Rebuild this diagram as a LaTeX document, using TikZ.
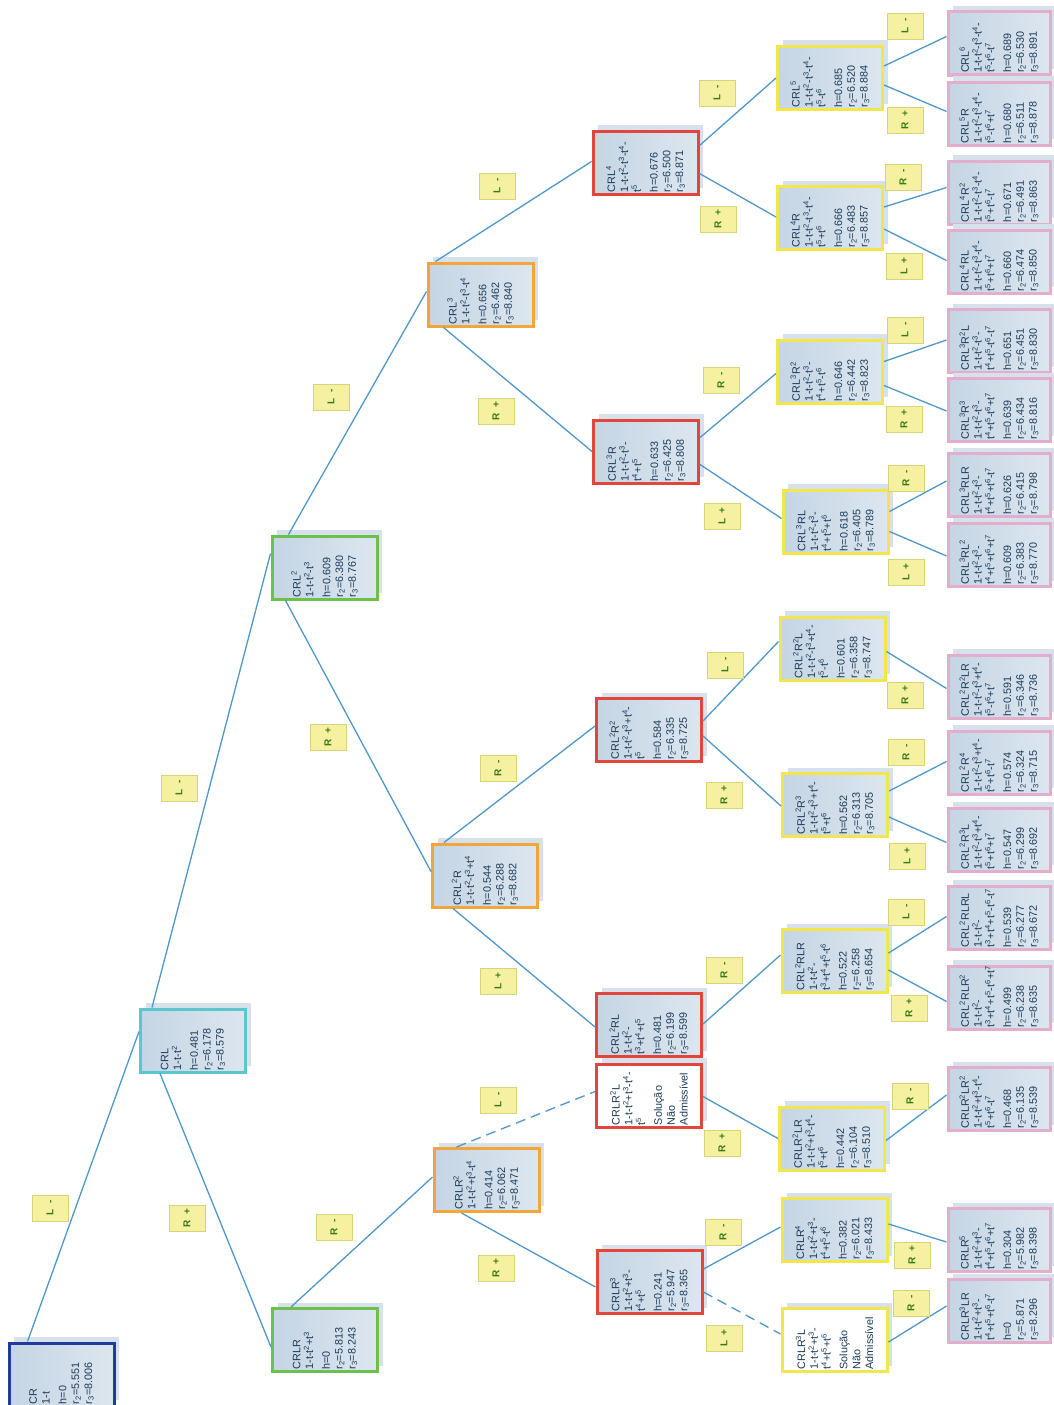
\documentclass[tikz,border=0pt]{standalone}
\usepackage{fontspec}
\setmainfont{Liberation Sans}
\usepackage{graphicx}
\usetikzlibrary{calc,shadows}

\definecolor{bordCR}{HTML}{1F3C9C}
\definecolor{bordCyan}{HTML}{5CC6CF}
\definecolor{bordGreen}{HTML}{6DC04B}
\definecolor{bordOrange}{HTML}{F2A63A}
\definecolor{bordRed}{HTML}{E2453B}
\definecolor{bordYellow}{HTML}{F2E64C}
\definecolor{bordPink}{HTML}{E3AECB}
\definecolor{fillL}{HTML}{C5D5E4}
\definecolor{fillR}{HTML}{DCE6EF}
\definecolor{shadowc}{HTML}{D6E1EC}
\definecolor{txtc}{HTML}{1B3A58}
\definecolor{linec}{HTML}{4F97C9}
\definecolor{labF}{HTML}{F5F1A0}
\definecolor{labB}{HTML}{D6D47A}
\definecolor{labT}{HTML}{3A7A1C}

% rotated, left-aligned text block of a tree node; lines never break at hyphens
\newcommand{\bt}[1]{\rotatebox{90}{\begin{minipage}{59pt}\raggedright
  \exhyphenpenalty=10000 \hyphenpenalty=10000 \hbadness=10000 \hfuzz=20pt #1\end{minipage}}}
\newcommand{\su}[1]{\textsuperscript{#1}}
\newcommand{\sbb}[1]{\textsubscript{#1}}
\newcommand{\lt}[1]{\rotatebox{90}{#1}}

\tikzset{
  treebox/.style={draw=#1, line width=3pt, minimum width=105pt, minimum height=63pt,
    inner sep=0pt, left color=fillL, right color=fillR, text=txtc,
    font=\fontsize{10.8}{12.8}\selectfont,
    drop shadow={shadow xshift=5pt, shadow yshift=6pt, fill=shadowc, opacity=1}},
  leafbox/.style={treebox=bordPink, minimum width=102pt},
  nobox/.style={treebox=#1, fill=white, left color=white, right color=white},
  signlab/.style={draw=labB, fill=labF, line width=0.8pt, minimum width=36pt,
    minimum height=26pt, inner sep=0pt, text=labT,
    font=\bfseries\fontsize{10}{11}\selectfont},
  conn/.style={draw=linec, line width=1.3pt},
  connd/.style={conn, dash pattern=on 10pt off 6pt},
}

\begin{document}
\begin{tikzpicture}[x=1pt,y=-1pt]
\useasboundingbox (0,0) rectangle (1053,1405);

% ---- level 0 .. 3
\node[treebox=bordCR] (cr) at (61.5,1374.5) {\bt{CR\\1-t\\[4pt]h=0\\r\sbb{2}=5.551\\r\sbb{3}=8.006}};
\node[treebox=bordCyan] (crl) at (193,1040.5) {\bt{CRL\\1-t-t\su{2}\\[4pt]h=0.481\\r\sbb{2}=6.178\\r\sbb{3}=8.579}};
\node[treebox=bordGreen] (crl2) at (324.5,567.5) {\bt{CRL\su{2}\\1-t-t\su{2}-t\su{3}\\[4pt]h=0.609\\r\sbb{2}=6.380\\r\sbb{3}=8.767}};
\node[treebox=bordGreen] (crlr) at (325,1340) {\bt{CRLR\\1-t-t\su{2}+t\su{3}\\[4pt]h=0\\r\sbb{2}=5.813\\r\sbb{3}=8.243}};
\node[treebox=bordOrange] (crl3) at (480.5,294.5) {\bt{CRL\su{3}\\1-t-t\su{2}-t\su{3}-t\su{4}\\[4pt]h=0.656\\r\sbb{2}=6.462\\r\sbb{3}=8.840}};
\node[treebox=bordOrange] (crl2r) at (485,875.5) {\bt{CRL\su{2}R\\1-t-t\su{2}-t\su{3}+t\su{4}\\[4pt]h=0.544\\r\sbb{2}=6.288\\r\sbb{3}=8.682}};
\node[treebox=bordOrange] (crlr2) at (486.5,1180) {\bt{CRLR\su{2}\\1-t-t\su{2}+t\su{3}-t\su{4}\\[4pt]h=0.414\\r\sbb{2}=6.062\\r\sbb{3}=8.471}};

% ---- level 4
\node[treebox=bordRed] (crl4) at (645.5,162.5) {\bt{CRL\su{4}\\1-t-t\su{2}-t\su{3}-t\su{4}-\\t\su{5}\\[4pt]h=0.676\\r\sbb{2}=6.500\\r\sbb{3}=8.871}};
\node[treebox=bordRed] (crl3r) at (646,451.5) {\bt{CRL\su{3}R\\1-t-t\su{2}-t\su{3}-\\t\su{4}+t\su{5}\\[4pt]h=0.633\\r\sbb{2}=6.425\\r\sbb{3}=8.808}};
\node[treebox=bordRed] (crl2r2) at (649,730) {\bt{CRL\su{2}R\su{2}\\1-t-t\su{2}-t\su{3}+t\su{4}-\\t\su{5}\\[4pt]h=0.584\\r\sbb{2}=6.335\\r\sbb{3}=8.725}};
\node[treebox=bordRed] (crl2rl) at (649,1025) {\bt{CRL\su{2}RL\\1-t-t\su{2}-\\t\su{3}+t\su{4}+t\su{5}\\[4pt]h=0.481\\r\sbb{2}=6.199\\r\sbb{3}=8.599}};
\node[nobox=bordRed] (crlr2l) at (649,1095.5) {\bt{CRLR\su{2}L\\1-t-t\su{2}+t\su{3}-t\su{4}-\\t\su{5}\\[4pt]Solução\\Não\\Admissível}};
\node[treebox=bordRed] (crlr3) at (649.5,1282) {\bt{CRLR\su{3}\\1-t-t\su{2}+t\su{3}-\\t\su{4}+t\su{5}\\[4pt]h=0.241\\r\sbb{2}=5.947\\r\sbb{3}=8.365}};

% ---- level 5
\node[treebox=bordYellow] (crl5) at (830,78) {\bt{CRL\su{5}\\1-t-t\su{2}-t\su{3}-t\su{4}-\\t\su{5}-t\su{6}\\[4pt]h=0.685\\r\sbb{2}=6.520\\r\sbb{3}=8.884}};
\node[treebox=bordYellow] (crl4r) at (830,218) {\bt{CRL\su{4}R\\1-t-t\su{2}-t\su{3}-t\su{4}-\\t\su{5}+t\su{6}\\[4pt]h=0.666\\r\sbb{2}=6.483\\r\sbb{3}=8.857}};
\node[treebox=bordYellow] (crl3r2) at (830,371.5) {\bt{CRL\su{3}R\su{2}\\1-t-t\su{2}-t\su{3}-\\t\su{4}+t\su{5}-t\su{6}\\[4pt]h=0.646\\r\sbb{2}=6.442\\r\sbb{3}=8.823}};
\node[treebox=bordYellow] (crl3rl) at (835.5,521.5) {\bt{CRL\su{3}RL\\1-t-t\su{2}-t\su{3}-\\t\su{4}+t\su{5}+t\su{6}\\[4pt]h=0.618\\r\sbb{2}=6.405\\r\sbb{3}=8.789}};
\node[treebox=bordYellow] (crl2r2l) at (832.5,648.5) {\bt{CRL\su{2}R\su{2}L\\1-t-t\su{2}-t\su{3}+t\su{4}-\\t\su{5}-t\su{6}\\[4pt]h=0.601\\r\sbb{2}=6.358\\r\sbb{3}=8.747}};
\node[treebox=bordYellow] (crl2r3) at (835,805) {\bt{CRL\su{2}R\su{3}\\1-t-t\su{2}-t\su{3}+t\su{4}-\\t\su{5}+t\su{6}\\[4pt]h=0.562\\r\sbb{2}=6.313\\r\sbb{3}=8.705}};
\node[treebox=bordYellow] (crl2rlr) at (834.5,961) {\bt{CRL\su{2}RLR\\1-t-t\su{2}-\\t\su{3}+t\su{4}+t\su{5}-t\su{6}\\[4pt]h=0.522\\r\sbb{2}=6.258\\r\sbb{3}=8.654}};
\node[treebox=bordYellow] (crlr2lr) at (832,1138.5) {\bt{CRLR\su{2}LR\\1-t-t\su{2}+t\su{3}-t\su{4}-\\t\su{5}+t\su{6}\\[4pt]h=0.442\\r\sbb{2}=6.104\\r\sbb{3}=8.510}};
\node[treebox=bordYellow] (crlr4) at (834.5,1230) {\bt{CRLR\su{4}\\1-t-t\su{2}+t\su{3}-\\t\su{4}+t\su{5}-t\su{6}\\[4pt]h=0.382\\r\sbb{2}=6.021\\r\sbb{3}=8.433}};
\node[nobox=bordYellow] (crlr3l) at (834.5,1340) {\bt{CRLR\su{3}L\\1-t-t\su{2}+t\su{3}-\\t\su{4}+t\su{5}+t\su{6}\\[4pt]Solução\\Não\\Admissível}};

% ---- level 6
\node[leafbox] (crl6) at (999,43.5) {\bt{CRL\su{6}\\1-t-t\su{2}-t\su{3}-t\su{4}-\\t\su{5}-t\su{6}-t\su{7}\\[4pt]h=0.689\\r\sbb{2}=6.530\\r\sbb{3}=8.891}};
\node[leafbox] (crl5r) at (999,113.5) {\bt{CRL\su{5}R\\1-t-t\su{2}-t\su{3}-t\su{4}-\\t\su{5}-t\su{6}+t\su{7}\\[4pt]h=0.680\\r\sbb{2}=6.511\\r\sbb{3}=8.878}};
\node[leafbox] (crl4r2) at (999,192.5) {\bt{CRL\su{4}R\su{2}\\1-t-t\su{2}-t\su{3}-t\su{4}-\\t\su{5}+t\su{6}-t\su{7}\\[4pt]h=0.671\\r\sbb{2}=6.491\\r\sbb{3}=8.863}};
\node[leafbox] (crl4rl) at (999,261.5) {\bt{CRL\su{4}RL\\1-t-t\su{2}-t\su{3}-t\su{4}-\\t\su{5}+t\su{6}+t\su{7}\\[4pt]h=0.660\\r\sbb{2}=6.474\\r\sbb{3}=8.850}};
\node[leafbox] (crl3r2l) at (999,341) {\bt{CRL\su{3}R\su{2}L\\1-t-t\su{2}-t\su{3}-\\t\su{4}+t\su{5}-t\su{6}-t\su{7}\\[4pt]h=0.651\\r\sbb{2}=6.451\\r\sbb{3}=8.830}};
\node[leafbox] (crl3r3) at (999,410) {\bt{CRL\su{3}R\su{3}\\1-t-t\su{2}-t\su{3}-\\t\su{4}+t\su{5}-t\su{6}+t\su{7}\\[4pt]h=0.639\\r\sbb{2}=6.434\\r\sbb{3}=8.816}};
\node[leafbox] (crl3rlr) at (999,485) {\bt{CRL\su{3}RLR\\1-t-t\su{2}-t\su{3}-\\t\su{4}+t\su{5}+t\su{6}-t\su{7}\\[4pt]h=0.626\\r\sbb{2}=6.415\\r\sbb{3}=8.798}};
\node[leafbox] (crl3rl2) at (999,555) {\bt{CRL\su{3}RL\su{2}\\1-t-t\su{2}-t\su{3}-\\t\su{4}+t\su{5}+t\su{6}+t\su{7}\\[4pt]h=0.609\\r\sbb{2}=6.383\\r\sbb{3}=8.770}};
\node[leafbox] (crl2r2lr) at (999,686.5) {\bt{CRL\su{2}R\su{2}LR\\1-t-t\su{2}-t\su{3}+t\su{4}-\\t\su{5}-t\su{6}+t\su{7}\\[4pt]h=0.591\\r\sbb{2}=6.346\\r\sbb{3}=8.736}};
\node[leafbox] (crl2r4) at (999,762.5) {\bt{CRL\su{2}R\su{4}\\1-t-t\su{2}-t\su{3}+t\su{4}-\\t\su{5}+t\su{6}-t\su{7}\\[4pt]h=0.574\\r\sbb{2}=6.324\\r\sbb{3}=8.715}};
\node[leafbox] (crl2r3l) at (999,839.5) {\bt{CRL\su{2}R\su{3}L\\1-t-t\su{2}-t\su{3}+t\su{4}-\\t\su{5}+t\su{6}+t\su{7}\\[4pt]h=0.547\\r\sbb{2}=6.299\\r\sbb{3}=8.692}};
\node[leafbox] (crl2rlrl) at (999,917.5) {\bt{CRL\su{2}RLRL\\1-t-t\su{2}-\\t\su{3}+t\su{4}+t\su{5}-t\su{6}-t\su{7}\\[4pt]h=0.539\\r\sbb{2}=6.277\\r\sbb{3}=8.672}};
\node[leafbox] (crl2rlr2) at (999,997.5) {\bt{CRL\su{2}RLR\su{2}\\1-t-t\su{2}-\\t\su{3}+t\su{4}+t\su{5}-t\su{6}+t\su{7}\\[4pt]h=0.499\\r\sbb{2}=6.238\\r\sbb{3}=8.635}};
\node[leafbox] (crlr2lr2) at (999,1099) {\bt{CRLR\su{2}LR\su{2}\\1-t-t\su{2}+t\su{3}-t\su{4}-\\t\su{5}+t\su{6}-t\su{7}\\[4pt]h=0.468\\r\sbb{2}=6.135\\r\sbb{3}=8.539}};
\node[leafbox] (crlr5) at (999,1240) {\bt{CRLR\su{5}\\1-t-t\su{2}+t\su{3}-\\t\su{4}+t\su{5}-t\su{6}+t\su{7}\\[4pt]h=0.304\\r\sbb{2}=5.982\\r\sbb{3}=8.398}};
\node[leafbox] (crlr3lr) at (999,1311) {\bt{CRLR\su{3}LR\\1-t-t\su{2}+t\su{3}-\\t\su{4}+t\su{5}+t\su{6}-t\su{7}\\[4pt]h=0\\r\sbb{2}=5.871\\r\sbb{3}=8.296}};

% ---- connectors, levels 0 -> 4
\draw[conn] ($(cr.north west)+(20,0)$) -- ($(crl.north west)+(0,24)$);
\draw[conn] ($(crl.north west)+(13,0)$) -- ($(crl2.north west)+(0,19)$);
\draw[conn] ($(crl.south west)+(21,0)$) -- ($(crlr.north west)+(0,40)$);
\draw[conn] ($(crl2.north west)+(18,0)$) -- ($(crl3.north west)+(0,30)$);
\draw[conn] ($(crl2.south west)+(15,0)$) -- ($(crl2r.north west)+(0,29)$);
\draw[conn] ($(crlr.north west)+(20,0)$) -- ($(crlr2.north west)+(0,30)$);
\draw[conn] ($(crl3.north west)+(9,0)$) -- ($(crl4.north west)+(0,32)$);
\draw[conn] ($(crl3.south west)+(17,0)$) -- ($(crl3r.north west)+(0,33)$);
\draw[conn] ($(crl2r.north west)+(13,0)$) -- ($(crl2r2.north west)+(0,29)$);
\draw[conn] ($(crl2r.south west)+(22,0)$) -- ($(crl2rl.north west)+(0,35)$);
\draw[connd] ($(crlr2.north west)+(24,0)$) -- ($(crlr2l.north west)+(0,29)$);
\draw[conn] ($(crlr2.south west)+(29,0)$) -- ($(crlr3.north west)+(0,38)$);

% ---- connectors, level 4 -> 5
\draw[conn] ($(crl4.north east)+(0,16)$) -- ($(crl5.north west)+(0,33)$);
\draw[conn] ($(crl4.north east)+(0,44)$) -- ($(crl4r.north west)+(0,32)$);
\draw[conn] ($(crl3r.north east)+(0,19)$) -- ($(crl3r2.north west)+(0,35)$);
\draw[conn] ($(crl3r.north east)+(0,46)$) -- ($(crl3rl.north west)+(0,30)$);
\draw[conn] ($(crl2r2.north east)+(0,24)$) -- ($(crl2r2l.north west)+(0,26)$);
\draw[conn] ($(crl2r2.north east)+(0,39)$) -- ($(crl2r3.north west)+(0,34)$);
\draw[conn] ($(crl2rl.north east)+(0,32)$) -- ($(crl2rlr.north west)+(0,27)$);
\draw[conn] ($(crlr2l.north east)+(0,34)$) -- ($(crlr2lr.north west)+(0,33)$);
\draw[conn] ($(crlr3.north east)+(0,20)$) -- ($(crlr4.north west)+(0,30)$);
\draw[connd] ($(crlr3.north east)+(0,43)$) -- ($(crlr3l.north west)+(0,27)$);

% ---- connectors, level 5 -> 6
\draw[conn] ($(crl5.north east)+(0,21)$) -- ($(crl6.north west)+(0,26)$);
\draw[conn] ($(crl5.north east)+(0,40)$) -- ($(crl5r.north west)+(0,31)$);
\draw[conn] ($(crl4r.north east)+(0,22)$) -- ($(crl4r2.north west)+(0,28)$);
\draw[conn] ($(crl4r.north east)+(0,44)$) -- ($(crl4rl.north west)+(0,32)$);
\draw[conn] ($(crl3r2.north east)+(0,23)$) -- ($(crl3r2l.north west)+(0,32)$);
\draw[conn] ($(crl3r2.north east)+(0,47)$) -- ($(crl3r3.north west)+(0,34)$);
\draw[conn] ($(crl3rl.north east)+(0,23)$) -- ($(crl3rlr.north west)+(0,29)$);
\draw[conn] ($(crl3rl.north east)+(0,43)$) -- ($(crl3rl2.north west)+(0,34)$);
\draw[conn] ($(crl2r2l.north east)+(0,36)$) -- ($(crl2r2lr.north west)+(0,35)$);
\draw[conn] ($(crl2r3.north east)+(0,19)$) -- ($(crl2r4.north west)+(0,32)$);
\draw[conn] ($(crl2r3.north east)+(0,45)$) -- ($(crl2r3l.north west)+(0,36)$);
\draw[conn] ($(crl2rlr.north east)+(0,25)$) -- ($(crl2rlrl.north west)+(0,32)$);
\draw[conn] ($(crl2rlr.north east)+(0,42)$) -- ($(crl2rlr2.north west)+(0,37)$);
\draw[conn] ($(crlr2lr.north east)+(0,35)$) -- ($(crlr2lr2.north west)+(0,29)$);
\draw[conn] ($(crlr4.north east)+(0,27)$) -- ($(crlr5.north west)+(0,35)$);
\draw[conn] ($(crlr3l.north east)+(0,35)$) -- ($(crlr3lr.north west)+(0,28)$);

% ---- branch sign labels
\node[signlab] (s1) at (50,1208) {\lt{L\ \ -}};
\node[signlab] (s2) at (187,1218) {\lt{R\ \ +}};
\node[signlab] (s3) at (334,1227) {\lt{R\ \ -}};
\node[signlab] (s4) at (179,788) {\lt{L\ \ -}};
\node[signlab] (s5) at (328,737) {\lt{R\ \ +}};
\node[signlab] (s6) at (331,397) {\lt{L\ \ -}};
\node[signlab] (s7) at (497,186) {\lt{L\ \ -}};
\node[signlab] (s8) at (496,411) {\lt{R\ \ +}};
\node[signlab] (s9) at (498,768) {\lt{R\ \ -}};
\node[signlab] (s10) at (498,981) {\lt{L\ \ +}};
\node[signlab] (s11) at (498,1100) {\lt{L\ \ -}};
\node[signlab] (s12) at (496,1268) {\lt{R\ \ +}};
\node[signlab] (s13) at (717,93) {\lt{L\ \ -}};
\node[signlab] (s14) at (718,219) {\lt{R\ \ +}};
\node[signlab] (s15) at (721,380) {\lt{R\ \ -}};
\node[signlab] (s16) at (722,516) {\lt{L\ \ +}};
\node[signlab] (s17) at (725,665) {\lt{L\ \ -}};
\node[signlab] (s18) at (724,795) {\lt{R\ \ +}};
\node[signlab] (s19) at (724,970) {\lt{R\ \ -}};
\node[signlab] (s20) at (722,1143) {\lt{R\ \ +}};
\node[signlab] (s21) at (723,1232) {\lt{R\ \ -}};
\node[signlab] (s22) at (724,1338) {\lt{L\ \ +}};
\node[signlab] (t1) at (905,26) {\lt{L\ \ -}};
\node[signlab] (t2) at (905,120) {\lt{R\ \ +}};
\node[signlab] (t3) at (903,177) {\lt{R\ \ -}};
\node[signlab] (t4) at (904,266) {\lt{L\ \ +}};
\node[signlab] (t5) at (905,330) {\lt{L\ \ -}};
\node[signlab] (t6) at (904,419) {\lt{R\ \ +}};
\node[signlab] (t7) at (906,478) {\lt{R\ \ -}};
\node[signlab] (t8) at (906,572) {\lt{L\ \ +}};
\node[signlab] (t9) at (905,695) {\lt{R\ \ +}};
\node[signlab] (t10) at (906,752) {\lt{R\ \ -}};
\node[signlab] (t11) at (907,856) {\lt{L\ \ +}};
\node[signlab] (t12) at (906,912) {\lt{L\ \ -}};
\node[signlab] (t13) at (909,1008) {\lt{R\ \ +}};
\node[signlab] (t14) at (910,1096) {\lt{R\ \ -}};
\node[signlab] (t15) at (912,1255) {\lt{R\ \ +}};
\node[signlab] (t16) at (911,1303) {\lt{R\ \ -}};
\end{tikzpicture}
\end{document}
